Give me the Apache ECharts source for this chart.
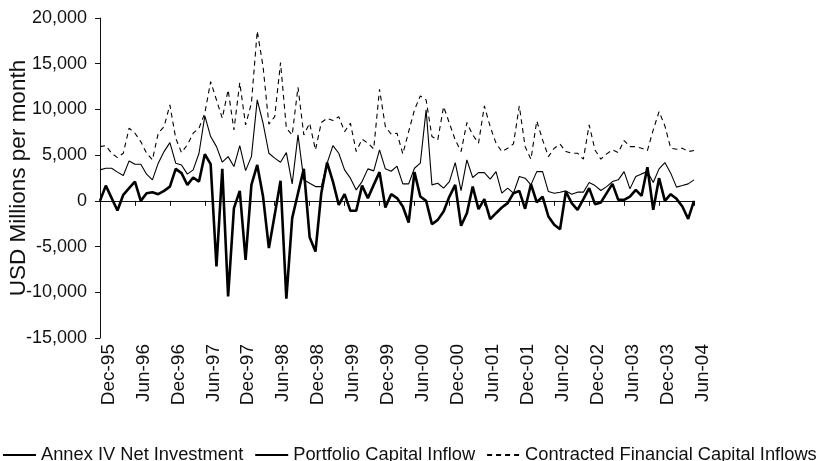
<!DOCTYPE html>
<html>
<head>
<meta charset="utf-8">
<script src="https://cdn.jsdelivr.net/npm/echarts@6/dist/echarts.min.js"></script>
<style>
html,body{margin:0;padding:0;background:#fff;}
#chart{width:823px;height:461px;}
</style>
</head>
<body>
<div id="chart"></div>
<script>
// Month categories Dec-95 .. Jun-04
var monthNames = ['Jan','Feb','Mar','Apr','May','Jun','Jul','Aug','Sep','Oct','Nov','Dec'];
var categories = ['Dec-95'];
for (var y = 96; y <= 104; y++) {
  for (var m = 0; m < 12; m++) {
    if (y === 104 && m > 5) break;
    categories.push(monthNames[m] + '-' + String(y % 100).padStart(2, '0'));
  }
}
var tickLabels = ['Dec-95','Jun-96','Dec-96','Jun-97','Dec-97','Jun-98','Dec-98','Jun-99','Dec-99',
  'Jun-00','Dec-00','Jun-01','Dec-01','Jun-02','Dec-02','Jun-03','Dec-03','Jun-04'];

var seriesNames = ['Annex IV Net Investment','Portfolio Capital Inflow','Contracted Financial Capital Inflows'];

var annexIV = [0,1670,300,-1060,660,1390,2110,0,840,950,
  730,1090,1560,3500,3030,1750,2550,2110,5100,4010,
  -7180,3500,-10460,-800,1090,-6450,1750,3930,470,-5170,
  -1530,2190,-10710,-1890,840,3500,-3970,-5540,840,4190,
  2110,-440,730,-1090,-1090,1670,300,1750,3140,-730,
  730,300,-620,-2370,3140,470,0,-2550,-2080,-1170,
  470,1750,-2730,-1350,1560,-910,190,-2000,-1350,-730,
  -250,840,1090,-870,1820,-150,470,-1710,-2620,-3100,
  1020,-250,-980,190,1390,-360,-180,840,1860,110,
  110,470,1200,550,3680,-980,2480,0,730,220,
  -620,-1970,0];

var portfolio = [3390,3570,3570,3140,2770,4370,4010,4010,2920,2300,
  4120,5390,6370,4120,3930,2920,3390,5210,9290,7030,
  5930,4230,4840,3750,6040,3310,4840,11040,8490,5210,
  4670,4230,5280,1860,7210,2300,1930,1560,1560,4120,
  6040,5210,3390,2480,1200,2110,3500,3280,5570,3500,
  3240,3790,1860,1860,3570,4120,9950,1750,1930,1390,
  2110,4190,1130,4480,2550,3090,3090,2370,3200,840,
  1390,840,2660,2480,1750,3200,3200,1020,840,950,
  1090,730,950,950,2000,1670,1130,1560,2110,2300,
  3200,1310,2660,2950,3200,2000,3500,4190,3030,1500,
  1670,1860,2300];

var contracted = [5930,6040,5210,4730,5210,7950,7400,6480,5210,4480,
  7400,8120,10490,6850,5280,6120,7400,7950,9590,13040,
  11040,9040,12130,7760,12930,8310,10680,18580,14680,8380,
  9210,15120,7950,7210,12430,7210,8490,5570,8560,9040,
  8780,9210,7570,8490,5390,6740,6310,5680,12210,8120,
  7290,7400,5140,7570,9950,11480,11040,7030,6670,10310,
  8490,6670,5390,8560,7210,6310,10380,8120,6310,5390,
  5760,6230,10380,5930,4560,8740,6670,4840,5760,6200,
  5390,5210,5210,4560,8310,5570,4560,5140,5570,5280,
  6590,5930,5930,5760,5500,7760,9760,8200,5760,5650,
  5760,5390,5500];

var FONT = "'Liberation Sans', Arial, sans-serif";
var INK = '#111';

var chart = echarts.init(document.getElementById('chart'), null, {renderer: 'canvas'});
chart.setOption({
  animation: false,
  backgroundColor: '#fff',
  textStyle: {fontFamily: FONT, color: INK},
  grid: {left: 100, right: 129, top: 18, bottom: 123, containLabel: false, outerBoundsMode: 'none'},
  legend: {
    left: 0, top: 441, padding: [5, 0, 5, 2],
    itemWidth: 33, itemHeight: 12, itemGap: 11,
    itemStyle: {opacity: 0},
    textStyle: {fontFamily: FONT, fontSize: 18.3, color: INK},
    data: seriesNames
  },
  xAxis: [{
    type: 'category', data: categories, boundaryGap: false,
    axisLine: {onZero: true, lineStyle: {color: INK, width: 1}},
    axisTick: {show: true, interval: 5, length: 5, inside: false, lineStyle: {color: INK}},
    axisLabel: {show: false},
    splitLine: {show: false}
  }, {
    type: 'category', data: categories, boundaryGap: false, position: 'bottom',
    axisLine: {show: false, onZero: false},
    axisTick: {show: false},
    axisLabel: {
      show: true, rotate: 90, margin: 6, interval: 0, hideOverlap: false,
      fontFamily: FONT, fontSize: 19, color: INK, lineHeight: 17,
      formatter: function (v, idx) {
        return idx % 6 === 0 ? '\n' + tickLabels[idx / 6] : '';
      }
    },
    splitLine: {show: false}
  }],
  yAxis: {
    type: 'value', min: -15000, max: 20000, interval: 5000,
    name: 'USD Millions per month', nameLocation: 'middle', nameGap: 70, nameRotate: 90,
    nameMoveOverlap: false,
    nameTextStyle: {fontFamily: FONT, fontSize: 22.5, color: INK},
    axisLine: {show: true, lineStyle: {color: INK, width: 1}},
    axisTick: {show: true, length: 5, lineStyle: {color: INK}},
    axisLabel: {
      margin: 13, fontFamily: FONT, fontSize: 18, color: INK,
      formatter: function (v) { return v.toLocaleString('en-US'); }
    },
    splitLine: {show: false}
  },
  series: [{
    name: seriesNames[0], type: 'line', data: annexIV, symbol: 'none',
    lineStyle: {color: '#000', width: 2.6}, itemStyle: {color: '#000'}, z: 4
  }, {
    name: seriesNames[1], type: 'line', data: portfolio, symbol: 'none',
    lineStyle: {color: '#000', width: 1.1}, itemStyle: {color: '#000'}, z: 3
  }, {
    name: seriesNames[2], type: 'line', data: contracted, symbol: 'none',
    lineStyle: {color: '#000', width: 1.1, type: [5, 4]}, itemStyle: {color: '#000'}, z: 2
  }]
});
</script>
</body>
</html>
